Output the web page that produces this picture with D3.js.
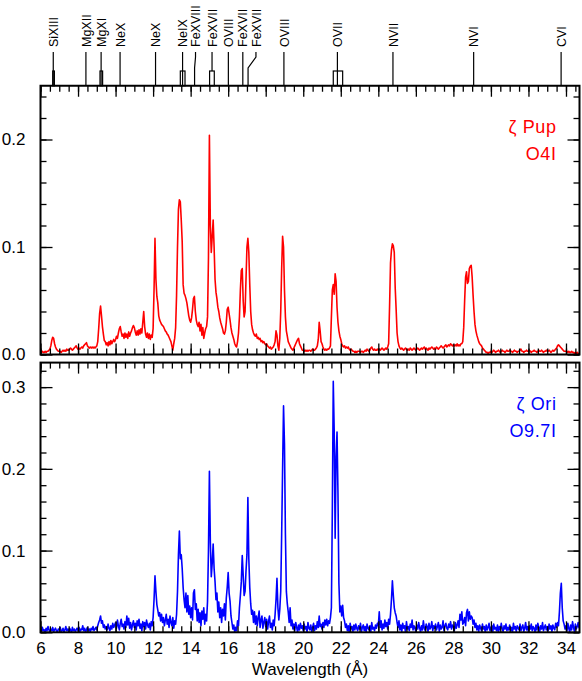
<!DOCTYPE html>
<html>
<head>
<meta charset="utf-8">
<script src="https://cdn.jsdelivr.net/npm/d3@7"></script>
<style>
  body { margin: 0; background: #fff; }
  svg { display: block; font-family: "Liberation Sans", Arial, Helvetica, sans-serif; }
  .frame { fill: none; stroke: #000; stroke-width: 2; }
  .tick line { stroke: #000; stroke-width: 1.3; }
  .domain { display: none; }
  .id-line { fill: none; stroke: #000; stroke-width: 1.2; }
</style>
</head>
<body>
<div id="chart"></div>
<script>
// wavelength grid of both spectra (Angstrom)
const WAVE_START = 6.0;
const WAVE_STEP = 0.05;

// zeta Pup flux, units of 1e-3, one row per Angstrom (6.00 ... 34.70)
const pupFlux = [
  4,2,3,2,2,3,2,3,3,4,5,8,13,16,15,10,7,5,4,3,
  3,3,2,3,4,3,4,3,5,4,4,5,6,5,4,5,6,7,8,6,
  5,6,5,6,7,6,8,9,10,11,8,7,6,7,6,7,6,7,6,7,
  8,12,24,38,45,36,26,19,13,12,9,11,8,12,9,13,10,12,14,12,
  14,17,15,20,24,26,21,17,19,15,20,16,19,15,21,17,20,22,25,27,
  25,21,18,22,18,23,19,24,20,30,40,26,19,16,20,15,19,14,18,16,
  24,60,108,70,54,48,36,32,30,28,27,26,24,22,21,19,18,16,14,12,
  8,4,10,15,25,55,100,135,144,142,125,105,65,57,55,52,48,42,36,32,
  30,34,42,52,54,40,32,28,26,30,22,28,18,25,15,20,24,26,35,90,
  204,120,95,110,125,100,70,58,52,44,40,34,30,27,24,20,19,22,30,42,
  44,38,32,25,20,17,14,10,8,7,12,20,35,60,78,80,50,35,40,70,
  100,108,95,65,40,28,23,20,18,17,19,15,16,14,15,12,13,11,12,10,
  9,10,8,7,6,7,5,6,7,9,12,22,18,8,4,15,40,80,110,100,
  60,35,22,17,12,10,8,6,5,4,6,8,10,12,14,15,10,8,6,4,
  4,3,4,3,4,3,4,4,3,4,5,4,4,5,6,8,14,30,22,12,
  10,7,5,4,5,4,5,5,6,8,35,60,65,56,75,68,44,30,22,17,
  14,10,8,7,8,6,7,6,7,5,4,5,4,3,3,2,3,2,3,3,
  3,2,3,3,2,3,4,3,5,4,3,4,6,7,5,4,5,4,4,5,
  4,5,4,5,6,5,4,5,6,5,7,10,45,85,97,103,101,95,62,42,
  20,12,8,6,5,6,5,4,5,6,5,4,5,4,6,5,4,5,6,5,
  4,5,6,5,4,5,6,5,6,7,5,6,5,4,6,5,6,7,6,5,
  6,5,7,6,5,6,7,8,7,6,7,8,9,7,8,9,8,10,9,8,
  9,8,9,8,10,8,9,8,10,10,12,25,50,72,77,66,68,80,82,83,
  72,55,40,28,22,18,15,12,10,9,8,6,5,4,3,2,2,1,2,2,
  3,2,3,4,3,2,3,3,4,3,2,3,4,3,3,2,3,4,3,3,
  4,3,3,2,3,4,3,3,2,3,3,4,5,3,3,2,3,3,4,3,
  3,4,3,2,3,3,4,3,3,2,3,4,3,3,4,3,2,3,3,4,
  3,3,4,3,2,3,4,3,4,5,6,8,9,8,7,6,5,4,3,3,
  3,3,2,3,2,2,3,2,2,1,2,1,2,1,1
];

// zeta Ori flux, units of 1e-3, same grid
const oriFlux = [
  4,1,6,2,3,0,5,2,7,3,1,4,2,6,1,3,5,2,0,4,
  3,6,1,2,5,0,3,7,2,4,1,5,3,0,6,2,4,1,3,5,
  2,6,1,4,3,8,2,5,0,3,6,2,4,1,5,3,7,2,4,6,
  3,8,12,15,20,11,14,6,9,4,7,3,10,5,2,8,4,11,6,9,
  12,5,15,8,3,11,16,7,10,4,13,6,20,9,17,5,12,3,9,14,
  6,11,3,14,8,16,5,10,2,13,7,12,4,15,9,6,11,3,13,8,
  18,40,69,50,34,27,20,24,14,22,12,18,8,15,22,10,16,6,20,12,
  8,18,5,14,10,22,50,95,124,90,95,78,55,40,30,48,25,45,22,32,
  18,30,15,48,52,28,35,14,28,12,24,8,26,16,30,10,22,14,38,100,
  197,110,68,85,108,78,62,40,48,25,37,18,30,12,28,20,35,15,42,55,
  73,48,38,20,12,4,9,0,6,2,14,8,30,45,62,94,70,45,50,75,
  95,165,90,55,35,22,27,12,25,10,20,8,18,26,6,15,20,5,12,18,
  7,16,4,13,20,6,11,3,15,8,22,40,66,30,15,28,50,120,200,277,
  230,120,50,35,25,12,30,8,15,4,10,2,12,6,0,9,3,11,5,8,
  2,10,4,7,0,12,5,3,9,1,6,11,2,8,4,13,6,20,7,10,
  4,12,6,15,9,16,8,14,11,18,30,150,307,245,115,215,245,170,60,25,
  32,20,33,18,14,6,10,2,8,0,11,4,7,1,9,3,10,5,2,8,
  4,11,1,6,9,2,7,0,10,5,3,8,1,12,4,6,2,9,5,11,
  8,25,6,14,3,10,5,15,7,12,4,16,10,22,40,63,45,30,24,20,
  12,6,14,3,9,1,11,5,8,0,13,4,7,2,10,6,15,3,8,5,
  1,9,4,12,6,0,8,3,14,5,2,10,7,1,11,4,6,13,2,8,
  5,10,3,7,12,1,9,4,6,14,2,8,11,5,3,10,6,13,4,9,
  7,2,12,5,9,14,6,22,15,25,10,12,18,8,24,28,14,25,16,20,
  18,10,15,6,11,3,8,1,9,5,2,10,4,7,0,9,3,6,11,2,
  5,8,1,10,4,6,2,9,0,7,3,11,5,1,8,4,10,2,6,3,
  9,2,6,0,11,4,7,1,8,5,3,10,2,6,9,1,5,12,3,7,
  1,8,4,10,2,7,5,0,9,3,11,6,1,8,4,12,2,6,9,3,
  7,2,10,4,8,1,9,5,3,11,6,12,8,25,48,60,30,14,10,4,
  8,2,11,5,0,9,3,13,6,1,10,4,7,12,5
];

const xTickValues = [6, 8, 10, 12, 14, 16, 18, 20, 22, 24, 26, 28, 30, 32, 34];
const pupYTicks = [0, 0.1, 0.2];
const oriYTicks = [0, 0.1, 0.2, 0.3];

// line identifications along the top
const lineNames = ["SiXIII", "MgXII", "MgXI", "NeX", "NeX", "NeIX", "FeXVIII", "FeXVII",
                   "OVIII", "FeXVII", "FeXVII", "OVIII", "OVII", "NVII", "NVI", "CVI"];
const lineLabelWaves = [6.68, 8.42, 9.23, 10.24, 12.13, 13.57, 14.26, 15.14,
                        16.01, 16.78, 17.48, 18.97, 21.82, 24.78, 29.08, 33.74];
const lineFootWaves = [6.68, 8.42, 9.23, 10.24, 12.13, 13.57, 14.21, 15.14,
                       16.01, 16.78, 17.06, 18.97, 21.82, 24.78, 29.08, 33.74];
// blended multiplets drawn as boxes: [from, to]
const boxRanges = [[6.65, 6.74], [9.17, 9.31], [13.45, 13.70], [15.01, 15.26], [21.60, 22.10]];
const boxCutsLine = [false, false, false, true, false];

const stars = [["\u03b6 Pup", "O4I"], ["\u03b6 Ori", "O9.7I"]];

const W = 582, H = 681;
const left = 40.5, right = 579.5;

const svg = d3.select("#chart")
  .append("svg")
  .attr("width", W)
  .attr("height", H);

const x = d3.scaleLinear()
  .domain([6, 34.72])
  .range([left, right]);

const xMinor = d3.range(6, 34.75, 0.5);

function drawPanel(flux, yMax, yTop, yBottom, yTicks, color, star, showXLabels, clipId) {
  const y = d3.scaleLinear()
    .domain([0, yMax])
    .range([yBottom, yTop]);

  const yMinor = d3.range(0, yMax + 1e-9, 0.02);

  svg.append("clipPath")
    .attr("id", clipId)
    .append("rect")
    .attr("x", left)
    .attr("y", yTop)
    .attr("width", right - left)
    .attr("height", yBottom - yTop);

  const line = d3.line()
    .x((d, i) => x(WAVE_START + i * WAVE_STEP))
    .y(d => y(d / 1000));

  svg.append("path")
    .datum(flux)
    .attr("clip-path", `url(#${clipId})`)
    .attr("fill", "none")
    .attr("stroke", color)
    .attr("stroke-width", 1.6)
    .attr("stroke-linejoin", "round")
    .attr("d", line);

  // x ticks, inward on bottom and top
  const bottomMajor = svg.append("g")
    .attr("transform", `translate(0,${yBottom})`)
    .call(d3.axisBottom(x)
      .tickValues(xTickValues)
      .tickSize(-11)
      .tickPadding(10)
      .tickFormat(showXLabels ? d3.format("d") : ""));
  bottomMajor.attr("font-size", 17).attr("font-family", null);
  bottomMajor.selectAll("text").attr("fill", "#000");

  svg.append("g")
    .attr("transform", `translate(0,${yBottom})`)
    .call(d3.axisBottom(x).tickValues(xMinor).tickSize(-6).tickFormat(""));

  svg.append("g")
    .attr("transform", `translate(0,${yTop})`)
    .call(d3.axisTop(x).tickValues(xTickValues).tickSize(-11).tickFormat(""));

  svg.append("g")
    .attr("transform", `translate(0,${yTop})`)
    .call(d3.axisTop(x).tickValues(xMinor).tickSize(-6).tickFormat(""));

  // y ticks, inward on left and right
  const leftMajor = svg.append("g")
    .attr("transform", `translate(${left},0)`)
    .call(d3.axisLeft(y)
      .tickValues(yTicks)
      .tickSize(-12)
      .tickPadding(15)
      .tickFormat(d3.format(".1f")));
  leftMajor.attr("font-size", 17).attr("font-family", null);
  leftMajor.selectAll("text").attr("fill", "#000");

  svg.append("g")
    .attr("transform", `translate(${left},0)`)
    .call(d3.axisLeft(y).tickValues(yMinor).tickSize(-6).tickFormat(""));

  svg.append("g")
    .attr("transform", `translate(${right},0)`)
    .call(d3.axisRight(y).tickValues(yTicks).tickSize(-12).tickFormat(""));

  svg.append("g")
    .attr("transform", `translate(${right},0)`)
    .call(d3.axisRight(y).tickValues(yMinor).tickSize(-6).tickFormat(""));

  svg.append("rect")
    .attr("class", "frame")
    .attr("x", left)
    .attr("y", yTop)
    .attr("width", right - left)
    .attr("height", yBottom - yTop);

  // star name and spectral type
  svg.append("text")
    .attr("x", 556.5)
    .attr("y", yTop + 47.5)
    .attr("text-anchor", "end")
    .attr("font-size", 18)
    .attr("letter-spacing", 0.6)
    .attr("fill", color)
    .text(star[0]);

  svg.append("text")
    .attr("x", 556.5)
    .attr("y", yTop + 74.5)
    .attr("text-anchor", "end")
    .attr("font-size", 18)
    .attr("letter-spacing", 0.6)
    .attr("fill", color)
    .text(star[1]);
}

const topFrame = 85.75;
drawPanel(pupFlux, 0.25, topFrame, 354.5, pupYTicks, "#ff0000", stars[0], false, "clip-pup");
drawPanel(oriFlux, 0.33, 362.6, 632.3, oriYTicks, "#0000ff", stars[1], true, "clip-ori");

svg.append("text")
  .attr("x", (left + right) / 2)
  .attr("y", 675)
  .attr("text-anchor", "middle")
  .attr("font-size", 17)
  .text("Wavelength (\u00c5)");

// line identification marks
const idTop = 52, idKneeTop = 57, idKneeBottom = 68, boxTop = 71;

lineNames.forEach((name, i) => {
  const xt = x(lineLabelWaves[i]);
  const xf = x(lineFootWaves[i]);
  const boxIdx = boxRanges.findIndex(b => lineFootWaves[i] >= b[0] - 0.05 && lineFootWaves[i] <= b[1] + 0.05);
  const yEnd = boxIdx >= 0 && boxCutsLine[boxIdx] ? boxTop : topFrame;

  svg.append("path")
    .attr("class", "id-line")
    .attr("d", `M${xt},${idTop}L${xt},${idKneeTop}L${xf},${idKneeBottom}L${xf},${yEnd}`);

  svg.append("text")
    .attr("transform", `translate(${xt},${idTop - 5}) rotate(-90)`)
    .attr("dy", "0.37em")
    .attr("font-size", 12.5)
    .attr("text-anchor", "start")
    .text(name);
});

boxRanges.forEach(b => {
  svg.append("rect")
    .attr("class", "id-line")
    .attr("x", x(b[0]))
    .attr("y", boxTop)
    .attr("width", x(b[1]) - x(b[0]))
    .attr("height", topFrame - boxTop);
});
</script>
</body>
</html>
